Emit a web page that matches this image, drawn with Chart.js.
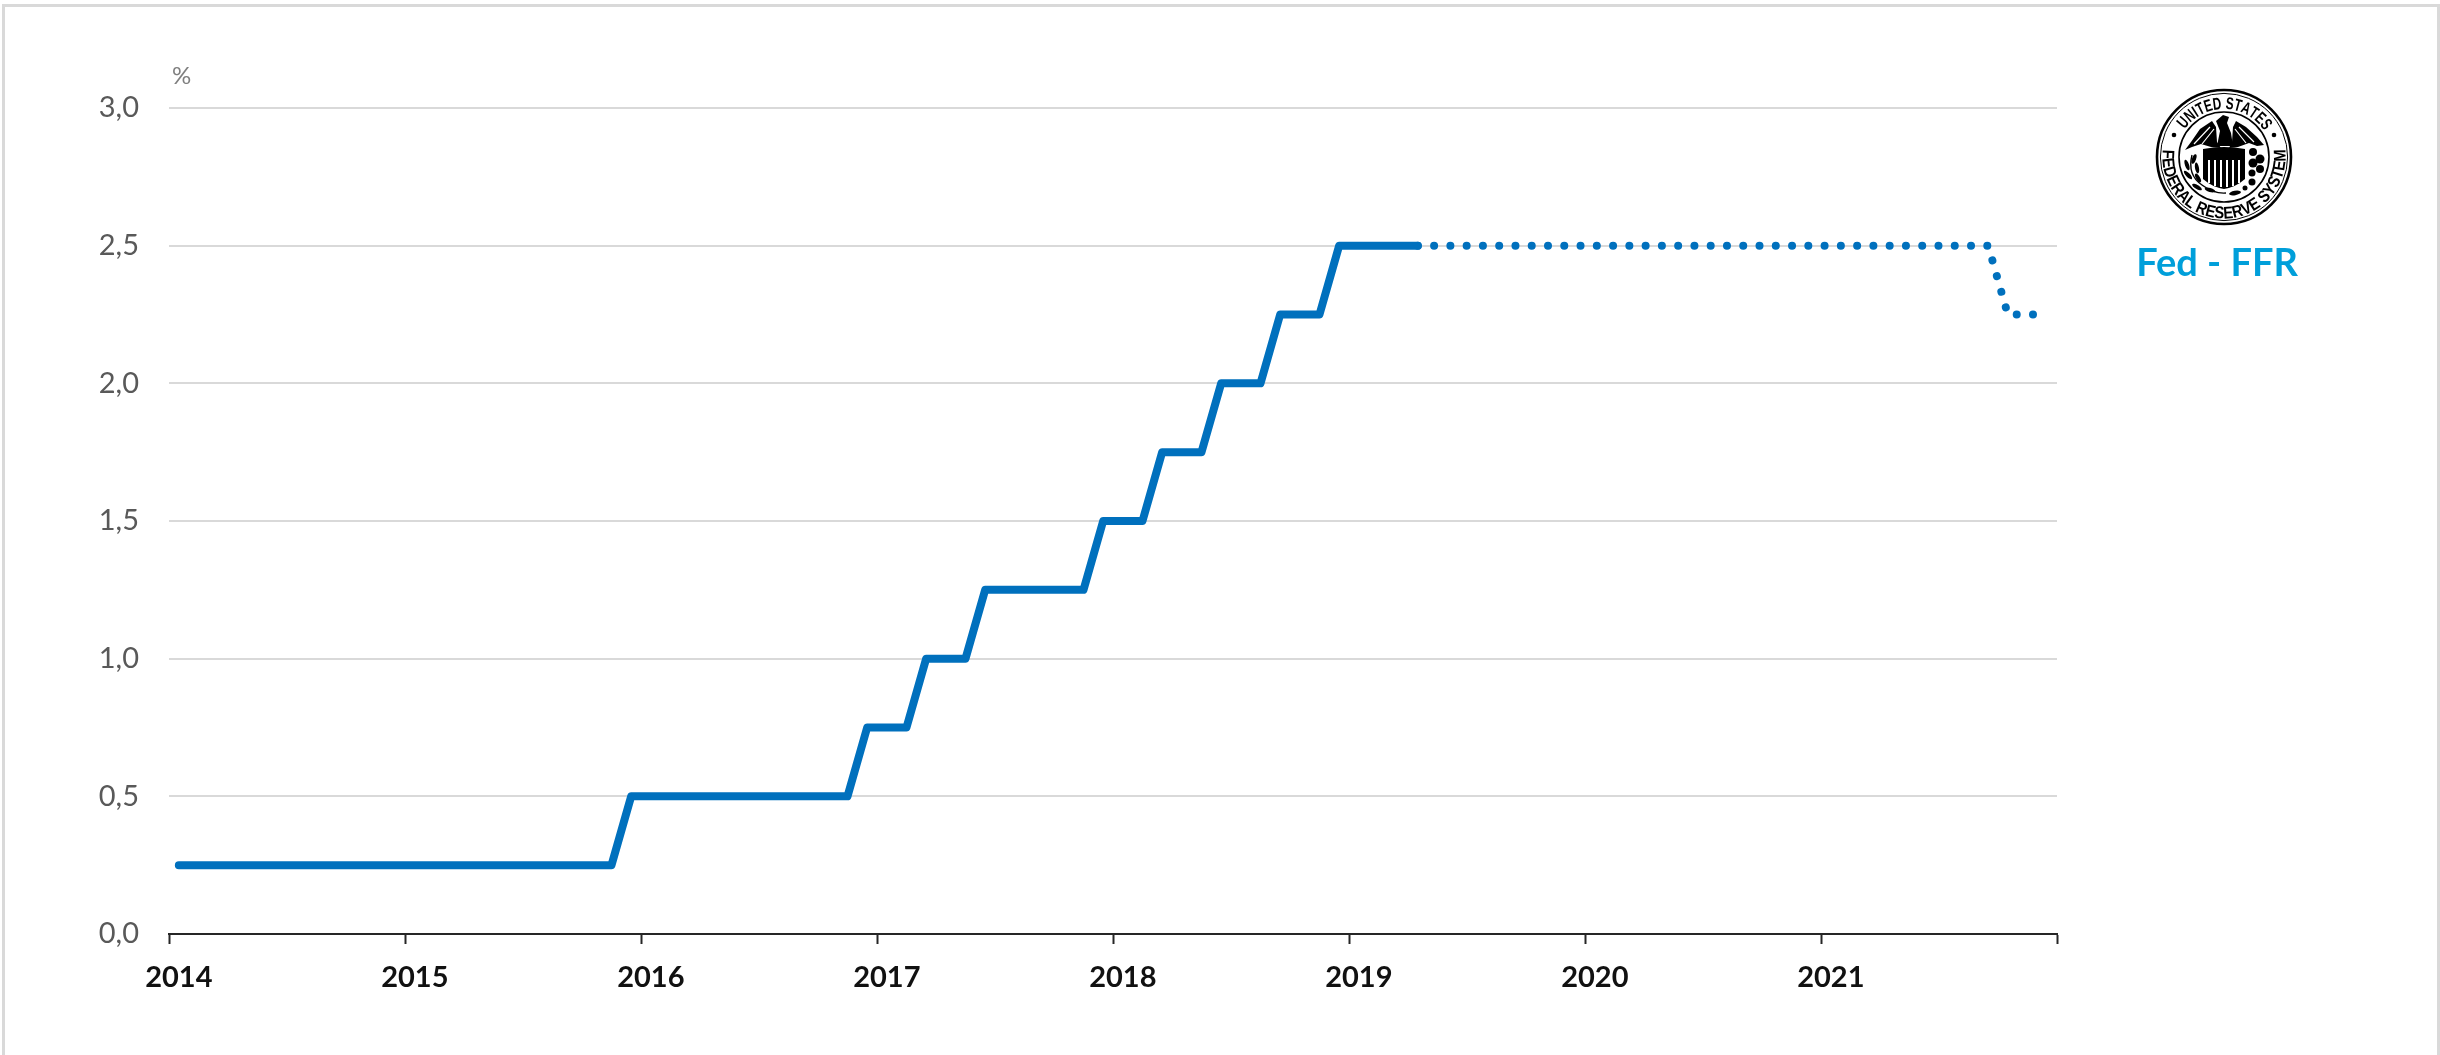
<!DOCTYPE html>
<html>
<head>
<meta charset="utf-8">
<title>Fed - FFR</title>
<script src="https://cdn.jsdelivr.net/npm/chart.js@4"></script>
<style>
  html, body { margin: 0; padding: 0; background: #fff; overflow: hidden; }
  #wrap { position: relative; width: 2440px; height: 1055px; overflow: hidden; }
  #frame { position: absolute; left: 2px; top: 4px; width: 2432px; height: 1200px; border: 3px solid #d9d9d9; }
  #chart { position: absolute; left: 0; top: 0; }
  #seal { position: absolute; left: 2154px; top: 87px; }
</style>
</head>
<body>
<div id="wrap">
  <div id="frame"></div>
  <canvas id="chart" width="2440" height="1055"></canvas>
  <!-- Selo do Federal Reserve -->
  <svg id="seal" width="140" height="140" viewBox="-70 -70 140 140" xmlns="http://www.w3.org/2000/svg">
    <circle r="67" fill="#fff" stroke="#000" stroke-width="2.6"/>
    <circle r="63.6" fill="none" stroke="#000" stroke-width="1"/>
    <circle r="45" fill="none" stroke="#000" stroke-width="1.6"/>
    <g id="sealText"></g>
    <circle cx="-50" cy="-22" r="2.3"/>
    <circle cx="50" cy="-22" r="2.3"/>
    <!-- aguia -->
    <path d="M -39 -7 L -33 -15 L -24 -28 L -12 -36 L -8 -30 L -7 -15 L -3 -9 L -13 -10 L -23 -13 L -32 -10 Z"/>
    <path d="M 40 -12 L 33 -20 L 22 -30 L 12 -36 L 9 -30 L 8 -15 L 5 -9 L 14 -10 L 25 -14 L 33 -11 Z"/>
    <path d="M -8 -36 L -1 -42 L 5 -40 L 3 -34 L 7 -24 L 9 -11 L -7 -11 L -4 -26 Z"/>
    <path d="M -30 -13 L -14 -30 M -22 -13 L -10 -28 M 30 -15 L 15 -30 M 22 -14 L 11 -28" stroke="#fff" stroke-width="1.2" fill="none"/>
    <!-- escudo -->
    <path d="M -21 -8 Q 0 -12 21 -8 L 21 22 Q 12 30 0 32 Q -12 30 -21 22 Z"/>
    <path d="M -15 3 V 26 M -9 3 V 29 M -3 3 V 30 M 3 3 V 30 M 9 3 V 29 M 15 3 V 26" stroke="#fff" stroke-width="2" fill="none"/>
    <!-- ramos -->
    <path d="M -32 -2 Q -37 18 -22 28 Q -10 37 2 36" fill="none" stroke="#000" stroke-width="1.4"/>
    <g>
      <ellipse cx="-30" cy="2" rx="2" ry="5" transform="rotate(20 -30 2)"/>
      <ellipse cx="-37" cy="8" rx="2" ry="5.5" transform="rotate(-20 -37 8)"/>
      <ellipse cx="-27" cy="11" rx="2" ry="5.5" transform="rotate(-10 -27 11)"/>
      <ellipse cx="-36" cy="18" rx="2" ry="5.5" transform="rotate(-45 -36 18)"/>
      <ellipse cx="-26" cy="21" rx="2" ry="5" transform="rotate(-30 -26 21)"/>
      <ellipse cx="-27" cy="30" rx="2" ry="5.5" transform="rotate(-60 -27 30)"/>
      <ellipse cx="-14" cy="33" rx="2" ry="5.5" transform="rotate(-75 -14 33)"/>
    </g>
    <g>
      <circle cx="29" cy="-5" r="4"/>
      <circle cx="36" cy="2" r="4.5"/>
      <circle cx="29" cy="6" r="4.5"/>
      <circle cx="36" cy="12" r="4"/>
      <circle cx="28" cy="16" r="3.5"/>
      <circle cx="28" cy="25" r="3.5"/>
      <circle cx="21" cy="31" r="2.5"/>
      <ellipse cx="11" cy="36" rx="6" ry="2.2" transform="rotate(-10 11 36)"/>
    </g>
  </svg>
</div>
<script>
// Eixo X: 96 meses, rotulo so em janeiro
const years = ['2014', '2015', '2016', '2017', '2018', '2019', '2020', '2021'];
const months = ['01', '02', '03', '04', '05', '06', '07', '08', '09', '10', '11', '12'];
const categories = years.flatMap(y => months.map(m => y + '-' + m));

const yTicks = [0, 0.5, 1, 1.5, 2, 2.5, 3];

// FFR observada, jan/2014 a abr/2019
const ffrActual = [
  0.25, 0.25, 0.25, 0.25, 0.25, 0.25, 0.25, 0.25, 0.25, 0.25, 0.25, 0.25,
  0.25, 0.25, 0.25, 0.25, 0.25, 0.25, 0.25, 0.25, 0.25, 0.25, 0.25, 0.5,
  0.5, 0.5, 0.5, 0.5, 0.5, 0.5, 0.5, 0.5, 0.5, 0.5, 0.5, 0.75,
  0.75, 0.75, 1, 1, 1, 1.25, 1.25, 1.25, 1.25, 1.25, 1.25, 1.5,
  1.5, 1.5, 1.75, 1.75, 1.75, 2, 2, 2, 2.25, 2.25, 2.25, 2.5,
  2.5, 2.5, 2.5, 2.5
];

// Projecao pontilhada, abr/2019 a dez/2021
const ffrProjection = [
  2.5, 2.5, 2.5, 2.5, 2.5, 2.5, 2.5, 2.5, 2.5,
  2.5, 2.5, 2.5, 2.5, 2.5, 2.5, 2.5, 2.5, 2.5, 2.5, 2.5, 2.5,
  2.5, 2.5, 2.5, 2.5, 2.5, 2.5, 2.5, 2.5, 2.5, 2.25, 2.25, 2.25
];
const projectionOffset = new Array(63).fill(null);

const blue = '#0070bd';

// Letras do selo, uma a uma ao longo do arco
function sealArc(str, radius, fromDeg, toDeg, bottom) {
  const group = document.getElementById('sealText');
  const font = 'bold 17px "Liberation Sans"';
  const measure = document.createElement('canvas').getContext('2d');
  measure.font = font;
  const total = measure.measureText(str).width;
  const spanRad = (toDeg - fromDeg) * Math.PI / 180;
  const squeeze = Math.abs(spanRad) * radius / total;
  let run = 0;
  for (const ch of str) {
    const w = measure.measureText(ch).width;
    const a = fromDeg + (toDeg - fromDeg) * (run + w / 2) / total;
    run += w;
    if (ch === ' ') continue;
    const t = document.createElementNS('http://www.w3.org/2000/svg', 'text');
    t.textContent = ch;
    t.setAttribute('font-family', 'Liberation Sans');
    t.setAttribute('font-weight', 'bold');
    t.setAttribute('font-size', '17');
    t.setAttribute('text-anchor', 'middle');
    const place = bottom
      ? `rotate(${a}) translate(0 ${radius}) scale(${squeeze} 1)`
      : `rotate(${a}) translate(0 ${-radius}) scale(${squeeze} 1)`;
    t.setAttribute('transform', place);
    group.appendChild(t);
  }
}
sealArc('UNITED STATES', 48, -55, 55, false);
sealArc('FEDERAL RESERVE SYSTEM', 61.5, 97, -97, true);

// Textos soltos: unidade e nome da serie
const extraText = {
  id: 'extraText',
  afterDraw(chart) {
    const ctx = chart.ctx;
    ctx.save();
    ctx.textBaseline = 'alphabetic';
    ctx.textAlign = 'left';
    ctx.fillStyle = '#7f7f7f';
    ctx.font = '24px Lato';
    ctx.fillText('%', 172, 84);
    ctx.textAlign = 'center';
    ctx.fillStyle = '#009fda';
    ctx.font = 'bold 38px Lato';
    ctx.fillText('Fed - FFR', 2217, 276);
    ctx.restore();
  }
};

const fedChart = new Chart(document.getElementById('chart').getContext('2d'), {
  type: 'line',
  data: {
    labels: categories,
    datasets: [{
      label: 'Projeção',
      data: projectionOffset.concat(ffrProjection),
      borderColor: blue,
      borderWidth: 8,
      borderDash: [0.01, 16.26],
      borderCapStyle: 'round',
      borderJoinStyle: 'round',
      pointRadius: 0,
      tension: 0
    }, {
      label: 'Fed - FFR',
      data: ffrActual,
      borderColor: blue,
      borderWidth: 8,
      borderCapStyle: 'round',
      borderJoinStyle: 'round',
      pointRadius: 0,
      tension: 0
    }]
  },
  options: {
    responsive: false,
    animation: false,
    layout: { padding: { left: 0, top: 108, right: 383, bottom: 0 } },
    plugins: { legend: { display: false }, title: { display: false }, tooltip: { enabled: false } },
    scales: {
      x: {
        offset: true,
        afterFit(scale) { scale.height = 121; },
        grid: {
          offset: true,
          drawOnChartArea: false,
          tickLength: 10,
          tickWidth: 2,
          tickColor: c => (c.index === undefined || c.index % 12 === 0) ? '#262626' : 'transparent'
        },
        border: { color: '#262626', width: 2 },
        ticks: {
          autoSkip: false,
          maxRotation: 0,
          padding: 16,
          color: '#111111',
          font: { family: 'Lato', size: 29, weight: 'bold' },
          callback(value, index) {
            return index % 12 === 0 ? categories[index].slice(0, 4) : '';
          }
        }
      },
      y: {
        min: 0,
        max: 3,
        afterFit(scale) { scale.width = 169; },
        afterBuildTicks(scale) { scale.ticks = yTicks.map(v => ({ value: v })); },
        grid: { color: '#d9d9d9', lineWidth: 2, drawTicks: false },
        border: { display: false },
        ticks: {
          padding: 30,
          color: '#595959',
          font: { family: 'Lato', size: 29 },
          callback: v => v.toFixed(1).replace('.', ',')
        }
      }
    }
  },
  plugins: [extraText]
});
</script>
</body>
</html>
